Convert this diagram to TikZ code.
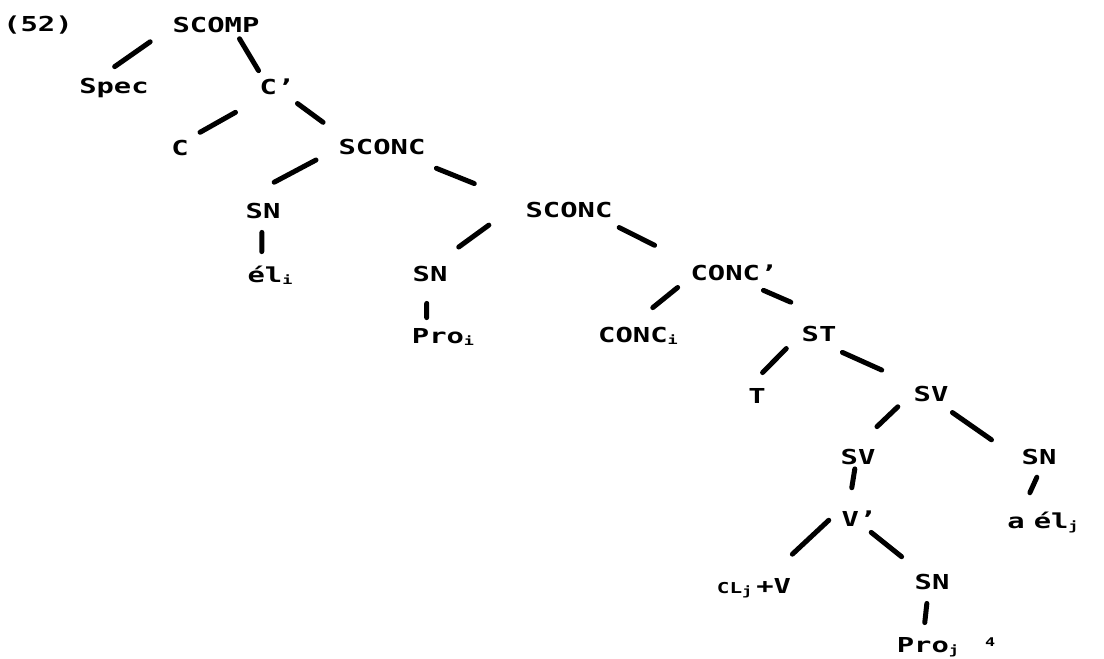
\documentclass[tikz,border=0pt]{standalone}
\usepackage{fontspec}
\usepackage{tikz}
\newfontfamily\dotfont[FakeStretch=1.4]{DejaVu Sans Mono Bold}
\newcommand{\subidx}[1]{\raisebox{-1pt}{\fontsize{6}{6}\selectfont #1}}
\newcommand{\supidx}[1]{\raisebox{3pt}{\fontsize{6}{6}\selectfont #1}}
\newcommand{\smallcap}[1]{{\fontsize{7.5}{8}\selectfont\uppercase{#1}}}

\begin{document}
\begin{tikzpicture}[x=0.5pt, y=-0.5pt,
    lab/.style={font=\dotfont\fontsize{10.3}{12}\selectfont, inner sep=2pt, text height=7.5pt, text depth=0pt},
    branch/.style={line width=2.5pt, line cap=round}]
    \useasboundingbox (0,0) rectangle (1104,659);
    \node[lab] (ex) at (38,24) {(52)};
    \node[lab] (scomp) at (216,25) {SCOMP};
    \node[lab] (spec) at (114,86) {Spec};
    \node[lab] (cbar) at (277,87) {C’};
    \node[lab] (c) at (180,148) {C};
    \node[lab] (sconcA) at (382,147) {SCONC};
    \node[lab] (snA) at (263,211) {SN};
    \node[lab] (elA) at (270,275) {él\subidx{i}};
    \node[lab] (sconcB) at (569,210) {SCONC};
    \node[lab] (snB) at (430,274) {SN};
    \node[lab] (proA) at (443,336) {Pro\subidx{i}};
    \node[lab] (concbar) at (734,273) {CONC’};
    \node[lab] (concA) at (638,335) {CONC\subidx{i}};
    \node[lab] (st) at (819,334) {ST};
    \node[lab] (t) at (757,396) {T};
    \node[lab] (svA) at (931,394) {SV};
    \node[lab] (svB) at (858,457) {SV};
    \node[lab] (snC) at (1039,457) {SN};
    \node[lab] (vbar) at (859,519) {V’};
    \node[lab] (elB) at (1043,521) {a\hspace{4.5pt}él\subidx{j}};
    \node[lab] (clv) at (754,586) {\smallcap{cl}\subidx{j}\hspace{2pt}+V};
    \node[lab] (snD) at (932,582) {SN};
    \node[lab] (proB) at (946,645) {Pro\subidx{j}\hspace{13pt}\supidx{4}};
    \foreach \p/\a/\c/\b/\s/\e in {
        scomp/185/spec/130/11/6.5, scomp/332/cbar/143/1.1/2.6,
        cbar/214/c/42/13.7/4, cbar/320/sconcA/164/3.9/10.8,
        sconcA/184/snA/150/10.3/18, sconcA/339/sconcB/171/12.6/25.3,
        sconcB/170/snB/56/20/12.8, sconcB/343/concbar/166/6.3/17.7,
        snA/265/elA/125/4.75/5.75, snB/255/proA/144/8.75/3.25,
        concbar/189/concA/110/5.5/12.3, concbar/325/st/34/6.8/25,
        st/189/t/116/7.8/8.1, st/307/svA/152/7.9/15.1,
        svA/185/svB/92/7.9/13.4, svA/315/snC/182/5.8/15.7,
        svB/255/vbar/131/0/9.8, snC/278/elB/150/4.6/9,
        vbar/163/clv/35/5.8/14.6, vbar/311/snD/139/1.2/10.7,
        snD/251/proB/152/4.8/5.3}
        \draw[branch, shorten <=\s pt, shorten >=\e pt] (\p.\a) -- (\c.\b);
\end{tikzpicture}
\end{document}
